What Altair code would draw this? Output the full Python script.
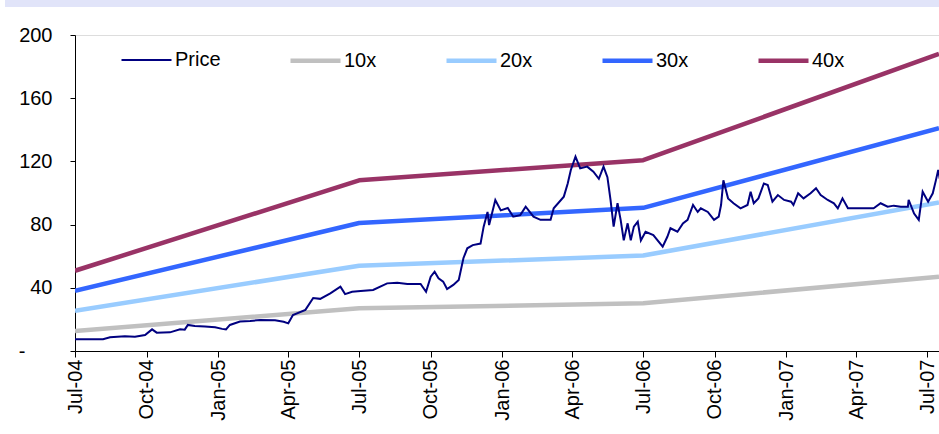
import altair as alt
import pandas as pd

# ---- data ----
series_order = ["Price", "10x", "20x", "30x", "40x"]
series_colors = ["#000080", "#c0c0c0", "#99ccff", "#3366ff", "#993366"]
series_widths = [2, 4.5, 4.5, 4.5, 4.5]

# days since 2004-07-01
price_days = [0, 36, 45, 64, 77, 90, 99, 105, 122, 135, 141, 145, 154, 167, 180, 189, 194,
              199, 212, 225, 238, 257, 268, 274, 280, 296, 306, 315, 328, 341, 347, 356, 367,
              383, 401, 414, 427, 444, 451, 457, 462, 467, 473, 478, 486, 493, 499, 504, 511,
              521, 525, 530, 532, 540, 547, 556, 563, 572, 579, 589, 598, 611, 615, 628, 633,
              637, 643, 649, 658, 666, 673, 679, 684, 688, 692, 697, 701, 705, 710, 714, 718,
              723, 727, 733, 743, 755, 761, 765, 774, 781, 787, 794, 800, 804, 813, 821, 827,
              830, 833, 839, 846, 855, 864, 868, 872, 878, 885, 890, 896, 903, 911, 920, 923,
              929, 936, 945, 952, 958, 967, 975, 980, 986, 993, 1010, 1026, 1035, 1044, 1052,
              1061, 1070, 1071, 1078, 1084, 1089, 1096, 1102, 1106, 1109, 1111]
price_vals = [7.4, 7.4, 8.7, 9.3, 9.0, 10.1, 13.7, 11.6, 11.8, 13.7, 13.5, 16.5, 15.8, 15.5,
              15.0, 14.0, 13.7, 16.5, 18.6, 19.0, 19.6, 19.5, 18.5, 17.5, 22.8, 26.0, 33.5,
              33.0, 36.5, 40.7, 36.0, 37.5, 38.0, 38.6, 42.8, 43.2, 42.4, 42.4, 37.5, 47.0,
              50.2, 46.0, 43.9, 39.2, 41.8, 45.0, 58.7, 65.0, 67.0, 68.0, 78.7, 88.0, 79.7,
              95.6, 89.0, 90.5, 85.0, 86.0, 91.3, 85.0, 83.0, 83.0, 90.3, 97.7, 106.0, 114.6,
              123.0, 115.6, 116.7, 113.5, 109.0, 116.7, 110.0, 95.6, 78.7, 93.5, 83.0, 70.0,
              80.8, 70.0, 78.7, 81.8, 70.0, 75.5, 73.4, 66.0, 72.3, 77.7, 75.5, 80.8, 83.0,
              92.4, 88.0, 90.3, 88.0, 83.0, 85.0, 92.4, 108.0, 96.6, 93.5, 90.3, 92.4, 100.8,
              93.5, 96.6, 106.0, 105.0, 94.5, 98.7, 95.6, 94.5, 92.4, 99.8, 96.6, 99.8, 103.0,
              98.7, 95.6, 93.5, 90.3, 96.6, 90.3, 90.3, 90.3, 93.5, 91.3, 92.0, 91.3, 91.3,
              95.6, 87.0, 83.0, 100.8, 94.5, 99.8, 108.0, 114.6, 109.0]

band_dates = ["2004-07-01", "2005-07-01", "2006-07-01", "2007-07-16"]
band_10x = [12.7, 27.0, 30.2, 47.0]
band_20x = [25.4, 54.0, 60.4, 94.0]
band_30x = [38.1, 81.0, 90.6, 141.0]
band_40x = [50.8, 108.0, 120.8, 188.0]

x_tick_dates = ["2004-07-01", "2004-10-01", "2005-01-01", "2005-04-01", "2005-07-01",
                "2005-10-01", "2006-01-01", "2006-04-01", "2006-07-01", "2006-10-01",
                "2007-01-01", "2007-04-01", "2007-07-01"]
y_ticks = [0, 40, 80, 120, 160, 200]

# ---- tables ----
base_date = pd.Timestamp("2004-07-01")
price_df = pd.DataFrame({
    "date": [(base_date + pd.Timedelta(days=d)).strftime("%Y-%m-%d") for d in price_days],
    "value": price_vals,
    "series": "Price",
})
band_rows = []
for name, vals in [("10x", band_10x), ("20x", band_20x), ("30x", band_30x), ("40x", band_40x)]:
    for d, v in zip(band_dates, vals):
        band_rows.append({"date": d, "value": v, "series": name})
band_df = pd.DataFrame(band_rows)

FONT = "Liberation Sans"

def dt(s):
    y, m, d = (int(p) for p in s.split("-"))
    return alt.DateTime(year=y, month=m, date=d, utc=True)

x_enc = alt.X(
    "date:T",
    scale=alt.Scale(type="utc", domain=[dt("2004-07-01"), dt("2007-07-16")]),
    axis=alt.Axis(
        title=None, values=[dt(s) for s in x_tick_dates], format="%b-%y",
        labelAngle=-90, labelFontSize=20, labelFont=FONT, labelColor="black",
        tickSize=6, tickColor="black", domainColor="black", labelPadding=2,
        grid=False, labelOverlap=False, labelFlush=False,
    ),
)
y_enc = alt.Y(
    "value:Q",
    scale=alt.Scale(domain=[0, 200], nice=False),
    axis=alt.Axis(
        title=None, values=y_ticks, labelFontSize=20, labelFont=FONT, labelColor="black",
        tickSize=5, tickColor="black", domainColor="black", grid=False,
        labelPadding={"condition": {"test": "datum.value == 0", "value": 45}, "value": 18},
        labelExpr="datum.value == 0 ? '-' : datum.label",
    ),
)
color_enc = alt.Color(
    "series:N",
    scale=alt.Scale(domain=series_order, range=series_colors),
    legend=alt.Legend(
        title=None, orient="none", legendX=44, legendY=-2, direction="horizontal",
        columns=5, gridAlign="each", symbolType="stroke", symbolSize=2500,
        labelFontSize=20, labelFont=FONT, labelColor="black", labelOffset=1,
        columnPadding=60, padding=0, symbolOpacity=1,
    ),
)
sw_enc = alt.StrokeWidth(
    "series:N",
    scale=alt.Scale(type="ordinal", domain=series_order, range=series_widths),
)

bands = alt.Chart(band_df).mark_line(clip=True, strokeJoin="round").encode(
    x=x_enc, y=y_enc, color=color_enc, strokeWidth=sw_enc, detail="series:N",
)
price = alt.Chart(price_df).mark_line(clip=True, strokeJoin="miter").encode(
    x=x_enc, y=y_enc, color=color_enc, strokeWidth=sw_enc,
)

header = alt.Chart(pd.DataFrame({"k": [0]})).mark_rect(color="#e1e4f9", clip=False).encode(
    x=alt.value(-70), x2=alt.value(864), y=alt.value(-35), y2=alt.value(-28),
)

chart = alt.layer(header, bands, price).properties(
    width=864, height=316,
    autosize=alt.AutoSizeParams(type="none"),
    padding={"left": 75, "top": 35, "right": 0, "bottom": 83},
).configure_view(stroke=None).configure(background="white")

chart.save("out.html", embed_options={"renderer": "svg", "actions": False})
